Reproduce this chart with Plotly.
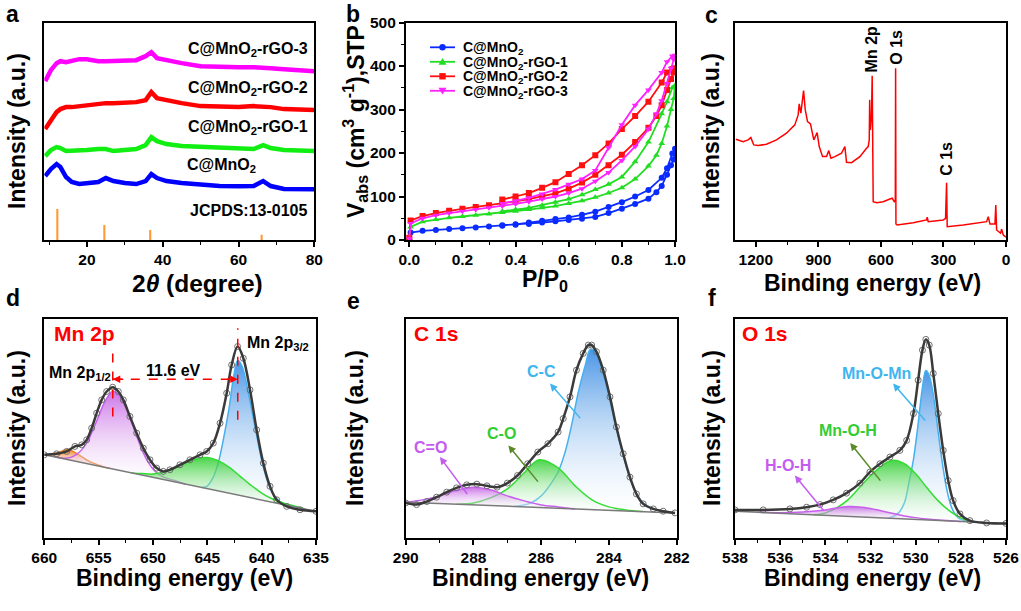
import plotly.graph_objects as go

W, H = 1021, 611
FONT = "Liberation Sans, Arial, Helvetica, sans-serif"

# ---------------- (a) XRD ----------------
xrd_2theta = [9, 10.5, 12, 13, 14.5, 16, 18, 20, 23, 25, 27, 30, 33, 35.5, 37, 38.5, 41, 45, 50, 55, 60, 64, 66.5, 68.5, 72, 76, 80]
xrd_c_mno2 = [64, 71, 76, 73, 63, 58, 56, 56.5, 58, 62, 59, 57, 56, 59, 66, 62, 59, 57, 55, 54, 53.7, 54, 59, 54, 51, 51, 50.7]
xrd_rgo1 = [84, 90, 93, 92, 89, 89, 89, 90, 91, 91, 89, 90, 91, 95, 103, 99, 96, 94, 93, 92, 91, 91, 95, 92, 90, 89, 89]
xrd_rgo2 = [111, 120, 128, 131, 133, 133, 134, 135, 136, 137, 137, 138, 138, 140, 148, 142, 140, 137, 134, 133, 133, 134, 134, 133, 131, 130, 130]
xrd_rgo3 = [159, 170, 177, 179, 178, 179, 181, 181, 179, 179, 179, 179, 180, 184, 188, 182, 180, 177, 174, 173, 173, 173, 173, 172, 171, 170, 169]
jcpds_2theta = [12.2, 24.6, 36.7, 66.1]
jcpds_int = [31, 15, 10, 5.3]
xrd_names = ["C@MnO<sub>2</sub>", "C@MnO<sub>2</sub>-rGO-1", "C@MnO<sub>2</sub>-rGO-2", "C@MnO<sub>2</sub>-rGO-3"]

# ---------------- (b) N2 isotherms ----------------
p_ads = [0.0, 0.005, 0.05, 0.1, 0.15, 0.2, 0.25, 0.3, 0.35, 0.4, 0.45, 0.5, 0.55, 0.6, 0.65, 0.7, 0.75, 0.8, 0.85, 0.9, 0.93, 0.95, 0.97, 0.985, 0.995, 1.0]
p_des = [0.99, 0.97, 0.95, 0.9, 0.85, 0.8, 0.75, 0.7, 0.65, 0.6, 0.55, 0.5, 0.45, 0.4, 0.35]
v_ads_mno2 = [2, 17, 21, 23, 25, 27, 29, 31, 33, 35, 37, 40, 43, 46, 49, 53, 62, 72, 83, 95, 110, 124, 150, 172, 185, 210]
v_des_mno2 = [199, 165, 143, 115, 100, 87, 76, 65, 58, 52, 48, 44, 40, 36, 34]
v_ads_rgo1 = [3, 30, 42, 47, 51, 54, 57, 60, 63, 66, 70, 74, 78, 84, 90, 98, 108, 120, 140, 170, 195, 222, 262, 300, 325, 355]
v_des_rgo1 = [350, 318, 290, 225, 180, 145, 128, 116, 104, 94, 87, 80, 74, 70, 66]
v_ads_rgo2 = [5, 45, 55, 62, 67, 72, 76, 80, 84, 89, 94, 100, 107, 118, 132, 150, 172, 196, 225, 258, 285, 310, 345, 370, 385, 395]
v_des_rgo2 = [393, 385, 362, 318, 285, 255, 222, 195, 172, 152, 133, 120, 108, 100, 93]
v_ads_rgo3 = [3, 38, 50, 57, 62, 66, 70, 74, 78, 83, 88, 94, 100, 108, 118, 135, 155, 183, 215, 255, 290, 320, 360, 395, 415, 425]
v_des_rgo3 = [423, 410, 385, 345, 310, 265, 212, 160, 140, 128, 116, 106, 97, 90, 84]

# ---------------- (c) XPS survey ----------------
survey_be = [1296, 1261, 1237, 1224, 1210, 1189, 1149, 1101, 1053, 1013, 997, 992, 984, 971, 963, 952, 938, 922, 906, 896,
             880, 861, 850, 840, 821, 789, 773, 765, 741, 701, 669, 661, 656, 654, 651, 645, 642, 640, 637, 620,
             589, 557, 546, 536, 531, 529.5, 528, 522, 445, 381, 378, 373, 301, 290, 285, 282, 205, 93, 85, 77,
             53, 49, 45, 26, 21, 13, 0]
survey_int = [100.7, 98.3, 100, 102.3, 95, 94.3, 95.7, 100, 106.7, 115, 125, 136, 126.7, 149.3, 130, 118.3, 116, 100, 107.3, 93.3,
              83.3, 83.3, 89.3, 81.7, 83.3, 86.7, 93.3, 77.7, 77.3, 83.3, 91.7, 93.3, 100, 140, 110, 125, 164, 120, 38.3, 37.3,
              38.3, 41, 41.7, 38.3, 40, 171.7, 16, 15, 17.3, 20, 22.7, 18.3, 20, 21.7, 57.3, 13.3, 15, 18.3, 23.3, 16,
              16, 35, 10, 6.7, 10.7, 5, 2.7]

# ---------------- (d) Mn 2p ----------------
mn_be = [660.0, 658.87, 657.94, 657.18, 656.56, 656.10, 655.64, 655.18, 654.72, 654.26, 653.71, 653.19, 652.73, 652.12,
         651.50, 650.89, 650.28, 649.66, 649.05, 648.44, 647.52, 646.60, 645.67, 645.06, 644.45, 643.83, 643.22, 642.76,
         642.21, 641.69, 641.07, 640.46, 639.85, 639.23, 638.62, 637.70, 636.47, 635.0]
mn_int = [83.3, 84.3, 86.7, 91.7, 93.3, 98.3, 110, 125, 138.3, 146.7, 151, 146.7, 138.3, 121.7,
          105, 90, 78.3, 70, 66.7, 68.3, 73.3, 78.3, 83.3, 86.7, 95, 115, 145, 173.3,
          191.7, 180, 148.3, 108.3, 75, 51.7, 38.3, 31.7, 28.3, 26.7]
mn_bg_be = [660.0, 635.0]
mn_bg_int = [83.3, 26.7]
mn_orange_be = [660, 659, 658.5, 658, 657.5, 657, 656.5, 656, 655.5, 655, 654.5, 654]
mn_orange_int = [83.3, 84.6, 86.5, 88.3, 87.5, 84.5, 81, 77.5, 75, 73, 71, 69.7]
mn_p12_be = [659, 658, 657.5, 657, 656.5, 656, 655.5, 655, 654.5, 654, 653.7, 653.3, 653, 652.5, 652, 651.5, 651, 650.5, 650, 649.5, 649, 648, 647]
mn_p12_int = [81.0, 79.8, 81, 84, 89, 97, 109, 122, 135, 144, 147, 145, 141, 131, 117, 102, 88, 77, 69, 64, 61, 57.5, 53.9]
mn_sat_be = [652, 651, 650, 649, 648, 647, 646, 645.5, 645, 644.5, 644, 643, 642, 641, 640, 639, 638, 637, 636]
mn_sat_int = [65.2, 64.5, 64, 66, 70, 75, 79, 80.5, 80.5, 79.5, 77.5, 71, 62, 53, 45, 39, 35, 32, 29.0]
mn_p32_be = [645.5, 645, 644.5, 644, 643.5, 643, 642.6, 642.2, 641.8, 641.4, 641, 640.5, 640, 639.5, 639, 638.5, 638, 637, 636]
mn_p32_int = [50.5, 52, 60, 75, 100, 130, 160, 178, 172, 155, 133, 105, 78, 58, 45, 38, 34, 31.5, 29.0]

# ---------------- (e) C 1s ----------------
c_be = [290, 289.68, 289.38, 289.09, 288.79, 288.5, 288.2, 287.9, 287.6, 287.3, 287.0, 286.7, 286.4, 286.1, 285.8, 285.5,
        285.35, 285.15, 284.96, 284.76, 284.61, 284.51, 284.37, 284.17, 283.97, 283.78, 283.58, 283.38, 283.19, 282.99,
        282.69, 282.4, 282.05]
c_int = [35, 33.3, 36.3, 40.7, 45.7, 50, 53, 53.7, 52, 50.7, 54.7, 62.3, 74, 85.7, 94, 105.7,
         119, 140.7, 167.3, 184, 192.3, 192.3, 185.7, 167.3, 140.7, 110.7, 84, 60.7, 44, 34,
         29, 26.7, 25]
c_bg_be = [290, 282.05]
c_bg_int = [35.7, 25]
c_co2_be = [290, 289.5, 289, 288.5, 288, 287.5, 287, 286.5, 286, 285.5, 285]
c_co2_int = [35.7, 38, 42, 47.5, 50.5, 48, 42, 37, 33, 31, 29.0]
c_co_be = [288.5, 288, 287.5, 287, 286.5, 286.06, 285.5, 285, 284.5, 284, 283.5, 283]
c_co_int = [33.7, 35, 40, 49, 65, 78, 70, 52, 38, 31, 28, 26.3]
c_cc_be = [286.8, 286.3, 286, 285.8, 285.5, 285.3, 285.1, 284.9, 284.7, 284.55, 284.4, 284.2, 284, 283.8, 283.6, 283.4, 283.2, 283, 282.7, 282.4, 282.05]
c_cc_int = [31.4, 35, 42, 50, 66, 85, 113, 146, 172, 188, 186, 168, 142, 112, 85, 62, 45, 35, 29, 26.5, 25]

# ---------------- (f) O 1s ----------------
o_be = [538, 536.75, 535.57, 534.83, 534.24, 533.65, 533.06, 532.47, 532.03, 531.58, 531.14, 530.7, 530.4, 530.1,
        529.89, 529.7, 529.55, 529.4, 529.22, 529.0, 528.78, 528.56, 528.34, 528.04, 527.6, 526.86, 526.0]
o_int = [28, 28, 29, 30.7, 33.3, 38, 44.7, 54.7, 65.7, 74, 80.7, 87.3, 97.3, 124,
         157.3, 187.3, 198, 192.3, 164, 124, 87.3, 57.3, 37.3, 24, 17.3, 15, 14.5]
o_bg_be = [538, 526]
o_bg_int = [26.7, 14.5]
o_hoh_be = [537, 536, 535, 534, 533.5, 533, 532.5, 532, 531.5, 531, 530.5, 530, 529.5, 529, 528]
o_hoh_int = [25.7, 25.2, 26, 28, 30, 31.3, 31, 29.5, 27, 24.5, 22, 20.3, 19, 18, 16.5]
o_moh_be = [534.5, 534, 533.5, 533, 532.5, 532, 531.5, 531.07, 530.5, 530, 529.5, 529, 528.5, 528, 527.5]
o_moh_int = [23.1, 25, 30, 38, 50, 62, 72, 77.3, 74, 64, 50, 37, 27, 20, 16.0]
o_mom_be = [531.2, 530.8, 530.5, 530.3, 530.1, 529.9, 529.7, 529.55, 529.4, 529.2, 529, 528.8, 528.6, 528.4, 528.2, 528, 527.5]
o_mom_int = [19.8, 24, 35, 55, 78, 112, 150, 167, 162, 140, 105, 72, 46, 30, 22, 18.5, 16.0]


def px(x):
    return x / W


def py(y):
    return 1 - y / H


fig = go.Figure()

# ---- (a)
xrd_series = [xrd_c_mno2, xrd_rgo1, xrd_rgo2, xrd_rgo3]
xrd_colors = ["#0000FF", "#11EE11", "#FF0000", "#FF00FF"]
for name, ys, col in zip(xrd_names, xrd_series, xrd_colors):
    fig.add_trace(go.Scatter(x=xrd_2theta, y=ys, mode="lines", line=dict(color=col, width=4.5),
                             xaxis="x", yaxis="y", showlegend=False, name=name))
fig.add_trace(go.Bar(x=jcpds_2theta, y=jcpds_int, width=0.55, marker=dict(color="#FF9933", line=dict(width=0)),
                     xaxis="x", yaxis="y", showlegend=False))

# ---- (b)
bet_colors = ["#0A2BFF", "#22DD22", "#FF1010", "#FF22FF"]
bet_symbols = ["circle", "triangle-up", "square", "triangle-down"]
bet = [(v_ads_mno2, v_des_mno2), (v_ads_rgo1, v_des_rgo1), (v_ads_rgo2, v_des_rgo2), (v_ads_rgo3, v_des_rgo3)]
for name, (va, vd), col, sym in zip(xrd_names, bet, bet_colors, bet_symbols):
    fig.add_trace(go.Scatter(x=p_ads + p_des, y=va + vd, mode="lines+markers", name=name,
                             line=dict(color=col, width=1.8), marker=dict(color=col, symbol=sym, size=6),
                             xaxis="x2", yaxis="y2", showlegend=False))

# ---- (c)
fig.add_trace(go.Scatter(x=survey_be, y=survey_int, mode="lines", line=dict(color="#FF0000", width=1.5),
                         xaxis="x3", yaxis="y3", showlegend=False))


def comp(xs, ys, line_col, fill_col, xa, ya):
    fig.add_trace(go.Scatter(x=xs, y=ys, mode="lines", fill="toself",
                             line=dict(color=line_col, width=1.5, shape="spline"),
                             fillgradient=dict(type="vertical",
                                               colorscale=[[0, "rgba(255,255,255,0.2)"], [1, fill_col]]),
                             xaxis=xa, yaxis=ya, showlegend=False))


def xps(env_x, env_y, bg_x, bg_y, xa, ya):
    fig.add_trace(go.Scatter(x=bg_x, y=bg_y, mode="lines", line=dict(color="#7A7A7A", width=1.5),
                             xaxis=xa, yaxis=ya, showlegend=False))
    fig.add_trace(go.Scatter(x=env_x, y=env_y, mode="markers",
                             marker=dict(symbol="circle-open", size=6, color="#707070", line=dict(width=1)),
                             xaxis=xa, yaxis=ya, showlegend=False))
    fig.add_trace(go.Scatter(x=env_x, y=env_y, mode="lines", line=dict(color="#3A3A3A", width=2.5, shape="spline"),
                             xaxis=xa, yaxis=ya, showlegend=False))


BLUE_L, BLUE_F = "#45B0F0", "rgba(40,130,225,0.85)"
GREEN_L, GREEN_F = "#33DD33", "rgba(40,205,40,0.85)"
MAG_L, MAG_F = "#C860EE", "rgba(190,80,225,0.8)"
ORA_L, ORA_F = "#F08020", "rgba(240,120,30,0.9)"

# ---- (d)
comp(mn_orange_be, mn_orange_int, ORA_L, ORA_F, "x4", "y4")
comp(mn_p12_be, mn_p12_int, MAG_L, MAG_F, "x4", "y4")
comp(mn_p32_be, mn_p32_int, BLUE_L, BLUE_F, "x4", "y4")
comp(mn_sat_be, mn_sat_int, GREEN_L, GREEN_F, "x4", "y4")
xps(mn_be, mn_int, mn_bg_be, mn_bg_int, "x4", "y4")

# ---- (e)
comp(c_cc_be, c_cc_int, BLUE_L, BLUE_F, "x5", "y5")
comp(c_co_be, c_co_int, GREEN_L, GREEN_F, "x5", "y5")
comp(c_co2_be, c_co2_int, MAG_L, MAG_F, "x5", "y5")
xps(c_be, c_int, c_bg_be, c_bg_int, "x5", "y5")

# ---- (f)
comp(o_mom_be, o_mom_int, BLUE_L, BLUE_F, "x6", "y6")
comp(o_moh_be, o_moh_int, GREEN_L, GREEN_F, "x6", "y6")
comp(o_hoh_be, o_hoh_int, MAG_L, MAG_F, "x6", "y6")
xps(o_be, o_int, o_bg_be, o_bg_int, "x6", "y6")

TICKFONT = dict(family=FONT, size=15.5, color="black", weight="bold")


def xax(dom, rng, dtick, minor, anchor):
    return dict(domain=dom, range=rng, autorange=False, anchor=anchor, showline=True, linecolor="black",
                linewidth=1.5, mirror=True, ticks="outside", ticklen=5, tickwidth=1.5, tickcolor="black",
                dtick=dtick, tick0=0, showgrid=False, zeroline=False, tickfont=TICKFONT, automargin=False,
                minor=dict(dtick=minor, ticks="outside", ticklen=3, tickwidth=1.3, tickcolor="black", showgrid=False))


def yax_blank(dom, rng, anchor):
    return dict(domain=dom, range=rng, autorange=False, anchor=anchor, showline=True, linecolor="black",
                linewidth=1.5, mirror=True, ticks="", showticklabels=False, showgrid=False, zeroline=False,
                automargin=False)


TOP = [py(240), py(22.5)]
BOT = [py(538), py(319)]

layout = dict(
    width=W, height=H, margin=dict(l=0, r=0, t=0, b=0), autosize=False,
    paper_bgcolor="white", plot_bgcolor="white", barmode="overlay", showlegend=False,
    font=dict(family=FONT, color="black"),
    xaxis=xax([px(44.3), px(314.3)], [8.76, 80], 20, 10, "y"),
    yaxis=yax_blank(TOP, [0, 217.7], "x"),
    xaxis2=xax([px(405.7), px(675)], [-0.0135, 1.0], 0.2, 0.1, "y2"),
    yaxis2=dict(domain=TOP, range=[0, 500], autorange=False, anchor="x2", showline=True, linecolor="black",
                linewidth=1.5, mirror=True, ticks="outside", ticklen=5, tickwidth=1.5, tickcolor="black",
                dtick=100, showgrid=False, zeroline=False, tickfont=TICKFONT, automargin=False,
                minor=dict(dtick=50, ticks="outside", ticklen=3, tickwidth=1.3, tickcolor="black", showgrid=False)),
    xaxis3=xax([px(735), px(1006)], [1300, 0], 300, 150, "y3"),
    yaxis3=yax_blank(TOP, [0, 217.3], "x3"),
    xaxis4=xax([px(44.3), px(316)], [660, 635], 5, 2.5, "y4"),
    yaxis4=yax_blank(BOT, [0, 219.3], "x4"),
    xaxis5=xax([px(405.7), px(676.7)], [290, 282], 2, 1, "y5"),
    yaxis5=yax_blank(BOT, [0, 218.3], "x5"),
    xaxis6=xax([px(735), px(1006)], [538, 526], 2, 1, "y6"),
    yaxis6=yax_blank(BOT, [0, 218.3], "x6"),
)
layout["xaxis2"]["tickformat"] = ".1f"
fig.update_layout(**layout)

ann = []
shapes = []


def A(text, x, y, xref="paper", yref="paper", size=16, color="black", xanchor="center", angle=0, **kw):
    ann.append(dict(text=text, x=x, y=y, xref=xref, yref=yref, showarrow=False, xanchor=xanchor, yanchor="middle",
                    textangle=angle, font=dict(family=FONT, size=size, color=color, weight="bold"), **kw))


# panel letters
for t, x, y in [("a", 12.5, 14), ("b", 353, 14), ("c", 711, 15), ("d", 13, 298), ("e", 353, 301), ("f", 712, 298)]:
    A(t, px(x), py(y), size=23)

# axis titles
A("2<i>θ</i> (degree)", px(197), py(283), size=24.5)
A("P/P<sub>0</sub>", px(545), py(280), size=23)
A("Binding energy (eV)", px(872), py(283), size=23)
for xc in [184, 540, 872]:
    A("Binding energy (eV)", px(xc), py(578), size=23)
for xc, yc in [(17, 131), (711, 131), (17, 428), (355, 428), (712, 428)]:
    A("Intensity (a.u.)", px(xc), py(yc), size=23, angle=-90)
A("V<sub>abs</sub> (cm<sup>3</sup> g<sup>-1</sup>),STP", px(355), py(122), size=23, angle=-90)

# (b) legend drawn by hand (compact rows)
for i, (name, col, sym) in enumerate(zip(xrd_names, bet_colors, bet_symbols)):
    yc = 47.3 + 14.5 * i
    shapes.append(dict(type="line", xref="paper", yref="paper", x0=px(430), x1=px(455), y0=py(yc), y1=py(yc),
                       line=dict(color=col, width=1.8)))
    mx, r = 442.5, 3.2
    if sym == "circle":
        shapes.append(dict(type="circle", xref="paper", yref="paper", x0=px(mx - r), x1=px(mx + r),
                           y0=py(yc + r), y1=py(yc - r), fillcolor=col, line=dict(width=0)))
    elif sym == "square":
        shapes.append(dict(type="rect", xref="paper", yref="paper", x0=px(mx - r), x1=px(mx + r),
                           y0=py(yc + r), y1=py(yc - r), fillcolor=col, line=dict(width=0)))
    elif sym == "triangle-up":
        path = "M %f,%f L %f,%f L %f,%f Z" % (px(mx), py(yc - 3.8), px(mx - 4), py(yc + 3), px(mx + 4), py(yc + 3))
        shapes.append(dict(type="path", xref="paper", yref="paper", path=path, fillcolor=col, line=dict(width=0)))
    else:
        path = "M %f,%f L %f,%f L %f,%f Z" % (px(mx), py(yc + 3.8), px(mx - 4), py(yc - 3), px(mx + 4), py(yc - 3))
        shapes.append(dict(type="path", xref="paper", yref="paper", path=path, fillcolor=col, line=dict(width=0)))
    A(name, px(461), py(yc + 1), size=14, xanchor="left")

# (a) labels
A("C@MnO<sub>2</sub>-rGO-3", 78.9, 191, "x", "y", xanchor="right")
A("C@MnO<sub>2</sub>-rGO-2", 78.9, 152, "x", "y", xanchor="right")
A("C@MnO<sub>2</sub>-rGO-1", 78.9, 113, "x", "y", xanchor="right")
A("C@MnO<sub>2</sub>", 65.2, 75, "x", "y", xanchor="right")
A("JCPDS:13-0105", 78.9, 30, "x", "y", xanchor="right")

# (c) labels
A("Mn 2p", 644.8, 190, "x3", "y3", angle=-90)
A("O 1s", 524.8, 192.7, "x3", "y3", angle=-90)
A("C 1s", 284.8, 80.7, "x3", "y3", angle=-90)

# (d) labels
A("Mn 2p", 659.3, 205, "x4", "y4", size=21, color="#FF0000", xanchor="left")
A("Mn 2p<sub>1/2</sub>", 656.7, 165, "x4", "y4")
A("Mn 2p<sub>3/2</sub>", 638.5, 195, "x4", "y4")
A("11.6 eV", 648.1, 168, "x4", "y4")

# (e) labels
A("C 1s", 289.82, 204, "x5", "y5", size=21, color="#FF0000", xanchor="left")
A("C=O", 289.28, 90.7, "x5", "y5", color="#C45CF0")
A("C-O", 287.17, 104, "x5", "y5", color="#33CC33")
A("C-C", 285.99, 165.7, "x5", "y5", color="#3FB5F0")

# (f) labels
A("O 1s", 537.78, 204, "x6", "y6", size=21, color="#FF0000", xanchor="left")
A("Mn-O-Mn", 531.73, 164, "x6", "y6", color="#3FB5F0")
A("Mn-O-H", 532.99, 107.3, "x6", "y6", color="#33CC33")
A("H-O-H", 535.64, 72.3, "x6", "y6", color="#C45CF0")


def arrow(x, y, ax, ay, xa, ya, col, head=2):
    ann.append(dict(text="", x=x, y=y, ax=ax, ay=ay, xref=xa, yref=ya, axref=xa, ayref=ya, showarrow=True,
                    arrowhead=head, arrowsize=1, arrowwidth=1.5, arrowcolor=col, standoff=0, startstandoff=0))


arrow(288.99, 80.7, 288.15, 42.3, "x5", "y5", "#C45CF0")
arrow(286.97, 92.3, 286.06, 54.7, "x5", "y5", "#5A8A28")
arrow(285.74, 154, 284.81, 118, "x5", "y5", "#3FB5F0")
arrow(531.0, 154, 529.52, 115.7, "x6", "y6", "#3FB5F0")
arrow(532.9, 94.7, 531.51, 55.7, "x6", "y6", "#5A8A28")
arrow(535.35, 62.3, 534.02, 25.7, "x6", "y6", "#C45CF0")
# 11.6 eV double arrow heads
arrow(653.7, 159, 652.6, 159, "x4", "y4", "#FF0000")
arrow(642.2, 159, 643.3, 159, "x4", "y4", "#FF0000")

shapes += [
    dict(type="line", xref="x4", yref="y4", x0=653.7, x1=653.7, y0=121.7, y1=186.7,
         line=dict(color="#FF0000", width=1.5, dash="dash")),
    dict(type="line", xref="x4", yref="y4", x0=642.2, x1=642.2, y0=118.3, y1=210,
         line=dict(color="#FF0000", width=1.5, dash="dash")),
    dict(type="line", xref="x4", yref="y4", x0=653.7, x1=642.2, y0=159, y1=159,
         line=dict(color="#FF0000", width=1.5, dash="dash")),
]
fig.update_layout(annotations=ann, shapes=shapes)

fig.write_html("out.html", config={"displayModeBar": False},
               post_script="document.body.style.margin='0px';document.body.style.overflow='hidden';")
